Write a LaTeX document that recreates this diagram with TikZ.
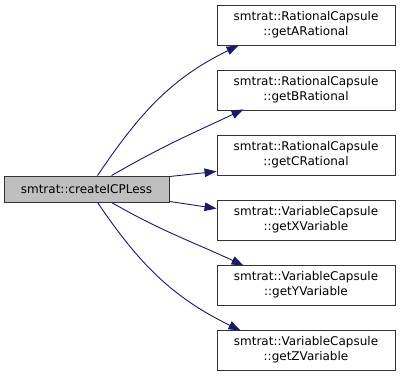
\documentclass[tikz,border=0pt]{standalone}
\usepackage{fontspec}
\setmainfont{DejaVu Sans}
\usetikzlibrary{arrows.meta}
\definecolor{edgeblue}{HTML}{191970}
\tikzset{
	fn/.style={draw=black!80, line width=0.9pt, minimum width=178pt, minimum height=40pt, align=center, inner sep=0pt, font=\fontsize{12}{15}\selectfont},
	callee/.style={-{Triangle[length=12pt,width=8.5pt]}, draw=edgeblue, line width=0.9pt}
}
\begin{document}
\begin{tikzpicture}[x=1pt,y=1pt]
	\useasboundingbox (0,0) rectangle (401,379);
	\node[fn, fill=black!25, minimum width=165pt, minimum height=26pt] (create) at (86.5,190) {smtrat::createICPLess};
	\node[fn] (getA) at (306,354) {smtrat::RationalCapsule\\::getARational};
	\node[fn] (getB) at (306,289) {smtrat::RationalCapsule\\::getBRational};
	\node[fn] (getC) at (306,224) {smtrat::RationalCapsule\\::getCRational};
	\node[fn] (getX) at (306,159) {smtrat::VariableCapsule\\::getXVariable};
	\node[fn] (getY) at (306,94) {smtrat::VariableCapsule\\::getYVariable};
	\node[fn] (getZ) at (306,29) {smtrat::VariableCapsule\\::getZVariable};
	\draw[callee] ([xshift=94pt]create.north west) to[out=56,in=206] ([xshift=22pt]getA.south west);
	\draw[callee] ([xshift=108pt]create.north west) to[out=30,in=205] ([xshift=27pt,yshift=1pt]getB.south west);
	\draw[callee] ([yshift=-1pt]create.north east) -- ([yshift=4pt]getC.south west);
	\draw[callee] ([yshift=1pt]create.south east) -- ([yshift=-9pt]getX.north west);
	\draw[callee] ([xshift=108pt]create.south west) to[out=-30,in=155] ([xshift=27pt,yshift=-1pt]getY.north west);
	\draw[callee] ([xshift=94pt]create.south west) to[out=-56,in=154] ([xshift=24pt,yshift=-1pt]getZ.north west);
\end{tikzpicture}
\end{document}
